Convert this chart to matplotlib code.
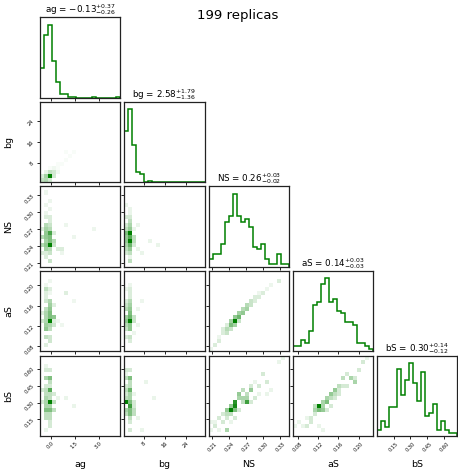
import numpy as np
import matplotlib
matplotlib.use("Agg")
import matplotlib.pyplot as plt
from matplotlib.colors import LinearSegmentedColormap

# parameter names, plot ranges and ticks
labels = ["ag", "bg", "NS", "aS", "bS"]
ranges = [(-0.67, 4.36), (0.35, 31.3), (0.2031, 0.345), (0.0696, 0.2284), (0.004, 0.715)]
ticks = [[0.0, 1.5, 3.0], [8, 16, 24], [0.21, 0.24, 0.27, 0.30, 0.33],
         [0.08, 0.12, 0.16, 0.20], [0.15, 0.30, 0.45, 0.60]]
tick_fmt = ["{:.1f}", "{:.0f}", "{:.2f}", "{:.2f}", "{:.2f}"]

# median and quantile errors shown in the titles
medians = [-0.13, 2.58, 0.26, 0.14, 0.30]
err_up = [0.37, 1.79, 0.03, 0.03, 0.14]
err_lo = [0.26, 1.36, 0.02, 0.03, 0.12]

# 1d histogram counts (20 bins over each range)
hist_ag = [26, 54, 63, 32, 14, 3, 3, 1, 1, 0, 0, 0, 0, 1, 0, 0, 0, 0, 0, 1]
hist_bg = [55, 79, 40, 11, 9, 0, 2, 0, 0, 1, 1, 0, 0, 0, 0, 0, 0, 0, 0, 1]
hist_NS = [3, 5, 5, 9, 18, 20, 29, 20, 18, 19, 16, 8, 7, 9, 3, 1, 1, 5, 1, 1]
hist_aS = [2, 2, 4, 3, 7, 16, 17, 23, 25, 17, 18, 14, 13, 10, 10, 9, 3, 3, 2, 1]
hist_bS = [2, 5, 3, 10, 10, 23, 14, 19, 25, 18, 12, 22, 7, 8, 11, 2, 5, 2, 1, 1]

# 2d histogram cells: (x bin, y bin, count)
cells_ag_bg = [(2, 1, 34), (1, 1, 12), (0, 1, 5), (3, 1, 6), (0, 0, 8), (1, 0, 10), (2, 0, 6),
               (2, 2, 8), (3, 2, 6), (1, 2, 3), (4, 2, 2), (3, 3, 2), (4, 3, 1), (2, 3, 1),
               (4, 4, 1), (5, 4, 1), (6, 5, 1), (7, 6, 1), (8, 7, 1), (6, 7, 1)]
cells_ag_NS = [(2, 5, 14), (2, 8, 10), (1, 8, 6), (1, 9, 5), (1, 10, 4), (2, 9, 4), (2, 10, 3),
               (1, 7, 6), (2, 7, 7), (2, 6, 7), (1, 6, 5), (0, 7, 4), (3, 6, 4), (0, 5, 4),
               (1, 5, 6), (3, 5, 3), (1, 4, 5), (2, 4, 4), (4, 4, 2), (5, 4, 2), (5, 3, 1),
               (2, 3, 3), (1, 3, 2), (0, 3, 2), (2, 1, 3), (1, 2, 2), (2, 12, 2), (1, 12, 2),
               (1, 13, 1), (2, 14, 1), (1, 15, 1), (2, 16, 1), (1, 18, 1), (2, 11, 2),
               (6, 10, 1), (13, 9, 1), (8, 7, 1), (0, 9, 2), (3, 8, 2)]
cells_bg_NS = [(1, 8, 12), (1, 6, 12), (0, 8, 6), (0, 6, 5), (1, 7, 8), (0, 7, 5), (1, 5, 7),
               (0, 5, 4), (1, 4, 5), (0, 4, 3), (2, 6, 3), (2, 7, 3), (2, 5, 2), (1, 9, 5),
               (0, 9, 3), (1, 10, 4), (0, 10, 2), (1, 11, 3), (1, 12, 2), (0, 12, 2),
               (1, 13, 1), (1, 14, 1), (0, 15, 1), (1, 3, 3), (0, 3, 2), (1, 1, 3), (1, 2, 1),
               (3, 4, 1), (4, 3, 1), (6, 6, 1), (8, 5, 1), (2, 9, 1), (3, 10, 1)]
cells_ag_aS = [(2, 7, 16), (2, 8, 8), (3, 8, 7), (2, 9, 8), (2, 10, 7), (2, 11, 6), (1, 10, 4),
               (1, 9, 5), (1, 8, 5), (1, 7, 5), (2, 6, 5), (1, 6, 6), (1, 5, 7), (2, 5, 4),
               (3, 6, 3), (0, 7, 3), (0, 9, 2), (2, 12, 5), (1, 12, 3), (1, 13, 2), (1, 14, 2),
               (2, 14, 1), (1, 15, 4), (2, 15, 2), (1, 16, 1), (2, 17, 1), (1, 3, 4), (2, 3, 3),
               (2, 2, 3), (1, 1, 2), (3, 11, 2), (6, 14, 2), (4, 7, 1), (5, 6, 1), (8, 12, 1),
               (3, 7, 2)]
cells_bg_aS = [(1, 7, 14), (0, 7, 6), (1, 8, 8), (0, 8, 5), (1, 9, 7), (1, 10, 6), (0, 10, 4),
               (1, 11, 5), (0, 11, 3), (1, 12, 4), (0, 12, 2), (1, 6, 6), (0, 6, 4), (1, 5, 6),
               (0, 5, 3), (2, 8, 3), (2, 7, 3), (1, 13, 2), (1, 14, 2), (1, 15, 2), (0, 15, 1),
               (1, 16, 1), (1, 3, 3), (0, 3, 2), (1, 2, 2), (2, 4, 1), (3, 6, 1), (4, 12, 1),
               (3, 10, 1)]
cells_NS_aS = [(6, 7, 14), (5, 6, 7), (5, 7, 5), (6, 8, 6), (4, 5, 4), (4, 4, 3), (3, 4, 2),
               (3, 5, 2), (5, 5, 3), (7, 8, 8), (7, 9, 5), (8, 9, 6), (8, 10, 4), (9, 10, 5),
               (9, 11, 4), (10, 11, 3), (10, 12, 3), (11, 12, 2), (11, 13, 2), (12, 13, 2),
               (12, 14, 1), (13, 14, 2), (14, 15, 1), (15, 16, 1), (17, 17, 2), (1, 1, 2),
               (2, 2, 2), (2, 3, 1), (0, 0, 1), (6, 6, 5), (7, 7, 3), (4, 6, 2)]
cells_ag_bS = [(2, 8, 12), (2, 11, 8), (2, 14, 6), (1, 14, 4), (1, 11, 3), (1, 8, 4), (1, 9, 4),
               (1, 6, 6), (2, 6, 6), (3, 6, 3), (3, 8, 3), (2, 7, 4), (1, 7, 4), (2, 9, 3),
               (2, 10, 3), (1, 10, 3), (1, 12, 2), (2, 12, 2), (2, 13, 3), (1, 4, 3), (2, 4, 3),
               (2, 3, 2), (2, 2, 2), (1, 5, 3), (2, 5, 3), (1, 16, 2), (2, 16, 2), (0, 8, 2),
               (0, 11, 2), (1, 17, 1), (3, 10, 2), (4, 9, 1), (6, 9, 1), (8, 7, 1), (1, 1, 1)]
cells_bg_bS = [(0, 8, 12), (1, 7, 9), (1, 8, 6), (1, 11, 7), (0, 11, 3), (1, 14, 6), (0, 14, 3),
               (1, 6, 6), (0, 6, 4), (1, 5, 6), (0, 5, 3), (1, 9, 4), (1, 10, 4), (0, 9, 3),
               (0, 10, 2), (1, 12, 3), (1, 13, 3), (0, 12, 2), (2, 6, 3), (2, 5, 3), (2, 8, 2),
               (2, 7, 2), (1, 4, 3), (1, 3, 2), (1, 1, 2), (0, 16, 2), (1, 16, 2), (0, 15, 1),
               (4, 1, 1), (3, 4, 1), (2, 10, 1), (5, 13, 1), (7, 9, 1)]
cells_NS_bS = [(5, 6, 12), (6, 7, 11), (6, 8, 10), (9, 8, 9), (4, 6, 5), (6, 6, 6), (5, 7, 5),
               (7, 10, 5), (8, 9, 4), (10, 11, 5), (9, 10, 3), (8, 11, 3), (7, 9, 4), (9, 9, 4),
               (8, 8, 3), (4, 5, 3), (3, 5, 2), (4, 4, 2), (2, 4, 2), (1, 3, 1), (0, 3, 1),
               (4, 1, 4), (1, 2, 2), (0, 1, 1), (2, 1, 1), (3, 3, 2), (5, 5, 3), (7, 6, 2),
               (10, 8, 2), (11, 9, 2), (14, 13, 2), (13, 15, 2), (12, 12, 2), (11, 13, 1),
               (17, 18, 1), (18, 19, 1), (15, 11, 1), (14, 10, 1), (12, 10, 1), (10, 12, 2),
               (6, 4, 2), (5, 3, 1)]
cells_aS_bS = [(6, 7, 12), (7, 6, 5), (6, 6, 6), (5, 6, 4), (5, 7, 3), (8, 8, 6), (7, 8, 4),
               (8, 9, 4), (7, 7, 4), (9, 10, 5), (9, 9, 3), (10, 11, 5), (10, 10, 3), (11, 12, 3),
               (11, 11, 2), (12, 14, 3), (12, 12, 2), (13, 15, 2), (14, 14, 4), (15, 13, 4),
               (15, 14, 2), (16, 16, 2), (17, 18, 2), (18, 19, 1), (4, 4, 2), (5, 5, 2), (3, 2, 2),
               (4, 3, 2), (2, 2, 1), (1, 3, 1), (0, 2, 1), (7, 1, 1), (6, 2, 1), (3, 4, 1),
               (8, 6, 2), (9, 7, 2), (10, 9, 2), (11, 10, 2), (13, 12, 2)]

hists = [hist_ag, hist_bg, hist_NS, hist_aS, hist_bS]
pairs = {(1, 0): cells_ag_bg, (2, 0): cells_ag_NS, (2, 1): cells_bg_NS,
         (3, 0): cells_ag_aS, (3, 1): cells_bg_aS, (3, 2): cells_NS_aS,
         (4, 0): cells_ag_bS, (4, 1): cells_bg_bS, (4, 2): cells_NS_bS, (4, 3): cells_aS_bS}

nbins = 20
color = "g"
density_cmap = LinearSegmentedColormap.from_list("density_cmap", ["white", color])

K = len(labels)
fig, axes = plt.subplots(K, K, figsize=(4.58, 4.70), dpi=100)
fig.subplots_adjust(left=0.0873, right=0.9985, bottom=0.0723, top=0.963,
                    wspace=0.05, hspace=0.05)

edges = [np.linspace(r[0], r[1], nbins + 1) for r in ranges]


def style_ticks(ax, i, j):
    ax.tick_params(length=2, width=0.6, labelsize=3.6, pad=1.5)
    for s in ax.spines.values():
        s.set_linewidth(0.9)
        s.set_color("#222222")
    ax.set_xticks(ticks[j])
    if i == K - 1:
        ax.set_xticklabels([tick_fmt[j].format(t) for t in ticks[j]], rotation=45)
        ax.set_xlabel(labels[j], fontsize=6.8)
        ax.xaxis.set_label_coords(0.5, -0.3)
    else:
        ax.set_xticklabels([])


for i in range(K):
    for j in range(K):
        ax = axes[i, j]
        if j > i:
            ax.set_frame_on(False)
            ax.set_xticks([])
            ax.set_yticks([])
            continue
        if i == j:
            counts = np.array(hists[i], dtype=float)
            ax.stairs(counts, edges[i], color=color, lw=1.1)
            ax.set_xlim(ranges[i])
            ax.set_ylim(0, 1.1 * counts.max())
            ax.set_yticks([])
            title = r"%s = $%.2f^{+%.2f}_{-%.2f}$" % (labels[i], medians[i], err_up[i], err_lo[i])
            ax.set_title(title, fontsize=6.3, pad=2)
            style_ticks(ax, i, j)
            continue
        H = np.zeros((nbins, nbins))
        for ix, iy, c in pairs[(i, j)]:
            H[iy, ix] = c
        ax.pcolormesh(edges[j], edges[i], H, cmap=density_cmap, vmin=0, vmax=H.max())
        ax.set_xlim(ranges[j])
        ax.set_ylim(ranges[i])
        style_ticks(ax, i, j)
        ax.set_yticks(ticks[i])
        if j == 0:
            ax.set_yticklabels([tick_fmt[i].format(t) for t in ticks[i]], rotation=45)
            ax.set_ylabel(labels[i], fontsize=6.8)
            ax.yaxis.set_label_coords(-0.33, 0.5)
        else:
            ax.set_yticklabels([])

fig.suptitle("199 replicas", x=0.52, y=0.966, fontsize=9.5, va="center")
fig.savefig("out.png", dpi=100)
